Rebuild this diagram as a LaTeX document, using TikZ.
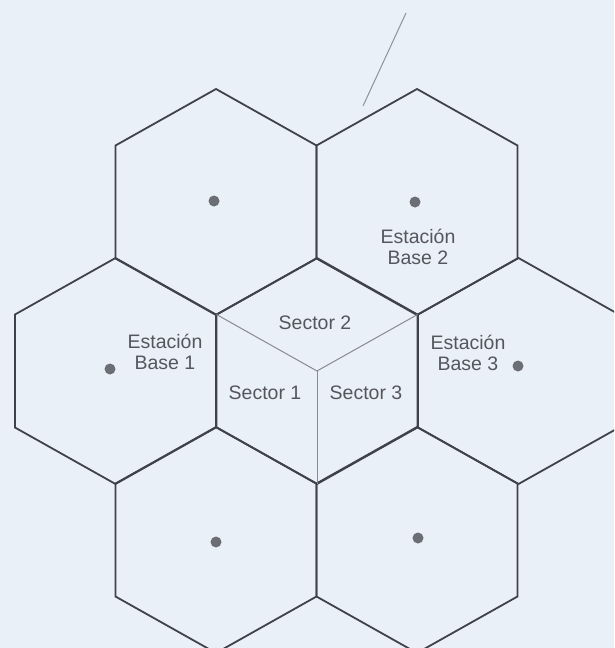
\documentclass[tikz,border=0pt]{standalone}
\usepackage{fontspec}
\setmainfont{Liberation Sans}
\definecolor{bg}{RGB}{234,240,248}
\definecolor{edge}{RGB}{62,66,76}
\definecolor{sect}{RGB}{135,139,148}
\definecolor{txt}{RGB}{84,86,94}
\definecolor{dotc}{RGB}{108,110,118}
\definecolor{thin}{RGB}{140,146,158}
\begin{document}
\begin{tikzpicture}[x=1pt,y=-1pt,
  hexedge/.style={draw=edge, line width=1.8pt, line join=miter},
  sectorline/.style={draw=sect, line width=1pt},
  lbl/.style={text=txt, font=\fontsize{19.5}{21}\selectfont, align=center, inner sep=0pt},
  bsdot/.style={circle, fill=dotc, minimum size=11pt, inner sep=0pt},
  hexcell/.pic={\path[hexedge] (0,-113) -- (100.5,-56.5) -- (100.5,56.5) -- (0,113) -- (-100.5,56.5) -- (-100.5,-56.5) -- cycle;}
]
\useasboundingbox[fill=bg] (0,0) rectangle (614,648);
\clip (0,0) rectangle (614,648);

% cell centres
\coordinate (c1) at (216,202);
\coordinate (c2) at (417,202);
\coordinate (c3) at (115.5,371);
\coordinate (c4) at (317,371);
\coordinate (c5) at (518.5,371);
\coordinate (c6) at (216,540);
\coordinate (c7) at (417,540);

\foreach \c in {c1,c2,c3,c4,c5,c6,c7} \pic at (\c) {hexcell};

% sectors of the centre cell
\coordinate (ul) at (216.5,314.5);
\coordinate (ur) at (417.5,314.5);
\coordinate (bt) at (317,484);
\draw[sectorline] (ul) -- (c4) -- (ur);
\draw[sectorline] (c4) -- (bt);

% base-station dots
\node[bsdot] (d1) at (214,201) {};
\node[bsdot] (d2) at (415,202) {};
\node[bsdot] (d3) at (110,369) {};
\node[bsdot] (d5) at (518,366) {};
\node[bsdot] (d6) at (216,542) {};
\node[bsdot] (d7) at (418,538) {};

% labels
\node[lbl] (s2) at (315,323) {Sector 2};
\node[lbl] (s1) at (265,393) {Sector 1};
\node[lbl] (s3) at (366,393) {Sector 3};
\node[lbl] (b1) at (165,352) {Estación\\Base 1};
\node[lbl] (b2) at (418,247) {Estación\\Base 2};
\node[lbl] (b3) at (468,353) {Estación\\Base 3};

% stray line at the top
\coordinate (t1) at (363,106);
\coordinate (t2) at (406,13);
\draw[draw=thin, line width=1pt] (t1) -- (t2);
\end{tikzpicture}
\end{document}
